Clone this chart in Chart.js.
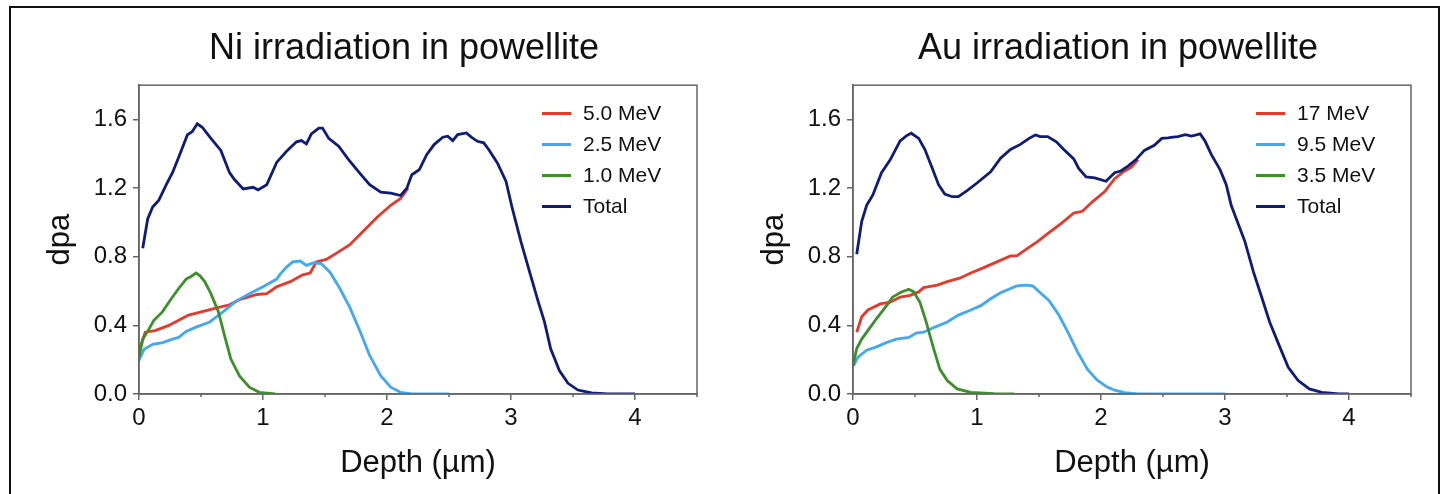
<!DOCTYPE html>
<html>
<head>
<meta charset="utf-8">
<style>
html, body { margin: 0; padding: 0; background: #fff; overflow: hidden; width: 1445px; height: 494px; }
#frame { position: absolute; left: 9px; top: 6px; width: 1427px; height: 600px; border: 2px solid #111; }
canvas { position: absolute; top: 0; }
.legend { position: absolute; font-family: "Liberation Sans", Arial, sans-serif; font-size: 21px; color: #111; }
.legend div { height: 31px; display: flex; align-items: center; white-space: nowrap; }
.legend .swatch { display: inline-block; width: 29px; height: 3px; margin-right: 12px; }
</style>
<script src="https://cdn.jsdelivr.net/npm/chart.js"></script>
</head>
<body>
<div id="frame"></div>
<canvas id="niChart" width="788" height="494" style="left:10px;width:788px;height:494px"></canvas>
<canvas id="auChart" width="788" height="494" style="left:724px;width:788px;height:494px"></canvas>
<div id="niLegend" class="legend"></div>
<div id="auLegend" class="legend"></div>

<script>
// axes
const xTicks = [0, 1, 2, 3, 4];
const xMinorTicks = [0.5, 1.5, 2.5, 3.5, 4.5];
const yTicks = [0, 0.4, 0.8, 1.2, 1.6];

// Ni irradiation: 5.0, 2.5, 1.0 MeV and total
const niNames = ['5.0 MeV', '2.5 MeV', '1.0 MeV', 'Total'];
const niDepth50 = [0.01, 0.05, 0.13, 0.24, 0.32, 0.40, 0.51, 0.62, 0.73, 0.81, 0.95, 1.03, 1.11, 1.22, 1.32, 1.38, 1.43, 1.51, 1.59, 1.70, 1.81, 1.92, 2.03, 2.11, 2.17];
const niDpa50 = [0.27, 0.36, 0.37, 0.40, 0.43, 0.46, 0.48, 0.50, 0.52, 0.55, 0.58, 0.585, 0.625, 0.655, 0.695, 0.705, 0.77, 0.785, 0.82, 0.87, 0.95, 1.03, 1.10, 1.14, 1.20];
const niDepth25 = [0.0, 0.04, 0.11, 0.19, 0.27, 0.32, 0.38, 0.46, 0.57, 0.68, 0.78, 0.89, 1.0, 1.11, 1.14, 1.19, 1.24, 1.30, 1.35, 1.41, 1.47, 1.54, 1.62, 1.70, 1.78, 1.86, 1.95, 2.03, 2.11, 2.2, 2.5];
const niDpa25 = [0.195, 0.26, 0.29, 0.30, 0.32, 0.33, 0.365, 0.39, 0.42, 0.48, 0.54, 0.585, 0.625, 0.67, 0.70, 0.74, 0.77, 0.775, 0.75, 0.765, 0.76, 0.71, 0.615, 0.505, 0.37, 0.225, 0.105, 0.04, 0.01, 0.0, 0.0];
const niDepth10 = [0.0, 0.03, 0.07, 0.12, 0.19, 0.26, 0.32, 0.38, 0.42, 0.46, 0.49, 0.53, 0.58, 0.64, 0.69, 0.74, 0.81, 0.89, 0.97, 1.1];
const niDpa10 = [0.215, 0.32, 0.365, 0.43, 0.48, 0.555, 0.615, 0.67, 0.685, 0.705, 0.69, 0.655, 0.585, 0.48, 0.34, 0.205, 0.105, 0.04, 0.01, 0.0];
const niDepthTot = [0.03, 0.07, 0.11, 0.16, 0.22, 0.27, 0.32, 0.39, 0.43, 0.47, 0.51, 0.58, 0.66, 0.73, 0.77, 0.84, 0.92, 0.96, 1.03, 1.11, 1.19, 1.27, 1.31, 1.35, 1.39, 1.45, 1.48, 1.53, 1.61, 1.69, 1.78, 1.86, 1.95, 2.03, 2.11, 2.16, 2.20, 2.26, 2.32, 2.38, 2.45, 2.49, 2.53, 2.57, 2.64, 2.68, 2.73, 2.78, 2.82, 2.89, 2.96, 3.01, 3.08, 3.15, 3.22, 3.27, 3.32, 3.39, 3.46, 3.54, 3.65, 3.78, 4.0];
const niDpaTot = [0.85, 1.02, 1.09, 1.13, 1.22, 1.29, 1.38, 1.51, 1.53, 1.575, 1.555, 1.49, 1.42, 1.29, 1.25, 1.195, 1.205, 1.19, 1.22, 1.35, 1.415, 1.47, 1.477, 1.458, 1.516, 1.55, 1.55, 1.49, 1.444, 1.366, 1.288, 1.22, 1.177, 1.171, 1.157, 1.20, 1.278, 1.307, 1.395, 1.454, 1.497, 1.503, 1.477, 1.512, 1.522, 1.497, 1.473, 1.464, 1.425, 1.347, 1.239, 1.083, 0.888, 0.712, 0.537, 0.42, 0.263, 0.137, 0.062, 0.023, 0.006, 0.0, 0.0];

// Au irradiation: 17, 9.5, 3.5 MeV and total
const auNames = ['17 MeV', '9.5 MeV', '3.5 MeV', 'Total'];
const auDepth170 = [0.03, 0.07, 0.12, 0.22, 0.30, 0.38, 0.46, 0.53, 0.57, 0.68, 0.76, 0.86, 0.95, 1.05, 1.16, 1.27, 1.32, 1.41, 1.49, 1.57, 1.68, 1.78, 1.85, 1.93, 2.03, 2.11, 2.19, 2.24, 2.30];
const auDpa170 = [0.36, 0.45, 0.49, 0.525, 0.535, 0.565, 0.575, 0.595, 0.62, 0.635, 0.655, 0.675, 0.705, 0.735, 0.77, 0.805, 0.805, 0.85, 0.89, 0.935, 0.995, 1.055, 1.065, 1.12, 1.18, 1.255, 1.30, 1.32, 1.366];
const auDepth95 = [0.005, 0.04, 0.11, 0.19, 0.27, 0.35, 0.45, 0.51, 0.57, 0.66, 0.76, 0.85, 0.95, 1.03, 1.11, 1.19, 1.27, 1.32, 1.39, 1.45, 1.51, 1.58, 1.66, 1.74, 1.81, 1.89, 1.97, 2.05, 2.11, 2.19, 2.3, 3.0];
const auDpa95 = [0.165, 0.215, 0.255, 0.275, 0.30, 0.32, 0.33, 0.355, 0.36, 0.39, 0.42, 0.46, 0.49, 0.515, 0.555, 0.59, 0.615, 0.63, 0.635, 0.63, 0.59, 0.545, 0.46, 0.35, 0.245, 0.145, 0.08, 0.04, 0.022, 0.008, 0.0, 0.0];
const auDepth35 = [0.0, 0.03, 0.07, 0.14, 0.19, 0.26, 0.32, 0.39, 0.45, 0.49, 0.54, 0.59, 0.65, 0.70, 0.76, 0.84, 0.95, 1.14, 1.30];
const auDpa35 = [0.165, 0.265, 0.32, 0.39, 0.44, 0.505, 0.565, 0.595, 0.61, 0.595, 0.535, 0.42, 0.265, 0.145, 0.078, 0.03, 0.01, 0.002, 0.0];
const auDepthTot = [0.03, 0.07, 0.11, 0.16, 0.23, 0.30, 0.38, 0.43, 0.47, 0.53, 0.58, 0.64, 0.69, 0.74, 0.80, 0.85, 0.92, 1.0, 1.11, 1.19, 1.27, 1.35, 1.42, 1.47, 1.51, 1.57, 1.64, 1.70, 1.78, 1.82, 1.88, 1.95, 2.04, 2.11, 2.16, 2.22, 2.28, 2.35, 2.43, 2.49, 2.54, 2.58, 2.62, 2.68, 2.73, 2.80, 2.84, 2.89, 2.96, 3.01, 3.05, 3.11, 3.16, 3.23, 3.30, 3.36, 3.43, 3.51, 3.59, 3.68, 3.78, 3.92, 4.0];
const auDpaTot = [0.815, 1.005, 1.10, 1.16, 1.29, 1.365, 1.475, 1.505, 1.52, 1.49, 1.425, 1.315, 1.22, 1.165, 1.15, 1.15, 1.185, 1.23, 1.295, 1.375, 1.425, 1.455, 1.49, 1.51, 1.50, 1.50, 1.47, 1.425, 1.37, 1.315, 1.265, 1.26, 1.24, 1.29, 1.30, 1.33, 1.365, 1.42, 1.45, 1.49, 1.493, 1.497, 1.50, 1.512, 1.503, 1.516, 1.473, 1.395, 1.308, 1.22, 1.10, 0.985, 0.89, 0.71, 0.555, 0.42, 0.295, 0.155, 0.078, 0.03, 0.01, 0.0, 0.0];

const colours = ['#e8382c', '#42a8f0', '#3c8f2a', '#0e1c78'];
const ink = '#111';
const axisGrey = '#666';
const family = '"Liberation Sans", Arial, sans-serif';

// box round the plot plus the small half-unit ticks on the depth axis
const plotBox = {
  id: 'plotBox',
  afterDraw(chart) {
    const {ctx, chartArea: a, scales: {x}} = chart;
    ctx.save();
    ctx.strokeStyle = axisGrey;
    ctx.lineWidth = 1.5;
    ctx.strokeRect(a.left, a.top, a.right - a.left, a.bottom - a.top);
    ctx.beginPath();
    xMinorTicks.forEach(v => {
      const px = x.getPixelForValue(v);
      ctx.moveTo(px, a.bottom);
      ctx.lineTo(px, a.bottom + 3);
    });
    ctx.stroke();
    ctx.restore();
  }
};

function makeChart(id, title, names, depths, dpas) {
  const datasets = names.map((name, i) => ({
    label: name,
    data: depths[i].map((d, j) => ({x: d, y: dpas[i][j]})),
    borderColor: colours[i],
    backgroundColor: colours[i],
    borderWidth: 2.8,
    pointRadius: 0,
    tension: 0,
    fill: false,
    order: names.length - i,
    yAxisID: 'y'
  }));
  return new Chart(document.getElementById(id), {
    type: 'line',
    data: {datasets: datasets},
    options: {
      responsive: false,
      animation: false,
      layout: {padding: 0},
      plugins: {
        legend: {display: false},
        tooltip: {enabled: false},
        title: {
          display: true,
          text: title,
          color: ink,
          font: {family: family, size: 36, weight: 'normal', lineHeight: 1.2},
          padding: {top: 27, bottom: 15}
        }
      },
      scales: {
        x: {
          type: 'linear',
          min: 0,
          max: 4.5,
          afterBuildTicks: s => { s.ticks = xTicks.map(v => ({value: v})); },
          afterFit: s => { s.height = 100; },
          grid: {drawOnChartArea: false, tickLength: 6, color: axisGrey, lineWidth: 1.5},
          border: {color: axisGrey, width: 1.5},
          ticks: {color: ink, font: {family: family, size: 24}, padding: 4, maxRotation: 0, callback: v => String(v)},
          title: {display: true, text: 'Depth (µm)', color: ink, font: {family: family, size: 31}, padding: {top: 0, bottom: 12}}
        },
        y: {
          type: 'linear',
          min: 0,
          max: 1.8,
          afterBuildTicks: s => { s.ticks = yTicks.map(v => ({value: v})); },
          afterFit: s => { s.width = 129; },
          grid: {drawOnChartArea: false, tickLength: 6, color: axisGrey, lineWidth: 1.5},
          border: {color: axisGrey, width: 1.5},
          ticks: {color: ink, font: {family: family, size: 24}, padding: 6, callback: v => v.toFixed(1)},
          title: {display: true, text: 'dpa', color: ink, font: {family: family, size: 31}, padding: {top: 32, bottom: 0}}
        },
        yPad: {
          position: 'right',
          display: true,
          afterFit: s => { s.width = 101; },
          grid: {display: false},
          border: {display: false},
          ticks: {display: false}
        }
      }
    },
    plugins: [plotBox]
  });
}

function buildLegend(chart, el, canvasLeft) {
  const a = chart.chartArea;
  el.style.left = (canvasLeft + a.right - 155) + 'px';
  el.style.top = (a.top + 28 - 15.5) + 'px';
  chart.data.datasets.forEach(ds => {
    const row = document.createElement('div');
    const swatch = document.createElement('span');
    swatch.className = 'swatch';
    swatch.style.background = ds.borderColor;
    row.appendChild(swatch);
    row.appendChild(document.createTextNode(ds.label));
    el.appendChild(row);
  });
}

const niChart = makeChart('niChart', 'Ni irradiation in powellite', niNames,
  [niDepth50, niDepth25, niDepth10, niDepthTot], [niDpa50, niDpa25, niDpa10, niDpaTot]);
const auChart = makeChart('auChart', 'Au irradiation in powellite', auNames,
  [auDepth170, auDepth95, auDepth35, auDepthTot], [auDpa170, auDpa95, auDpa35, auDpaTot]);

buildLegend(niChart, document.getElementById('niLegend'), 10);
buildLegend(auChart, document.getElementById('auLegend'), 724);
</script>
</body>
</html>
